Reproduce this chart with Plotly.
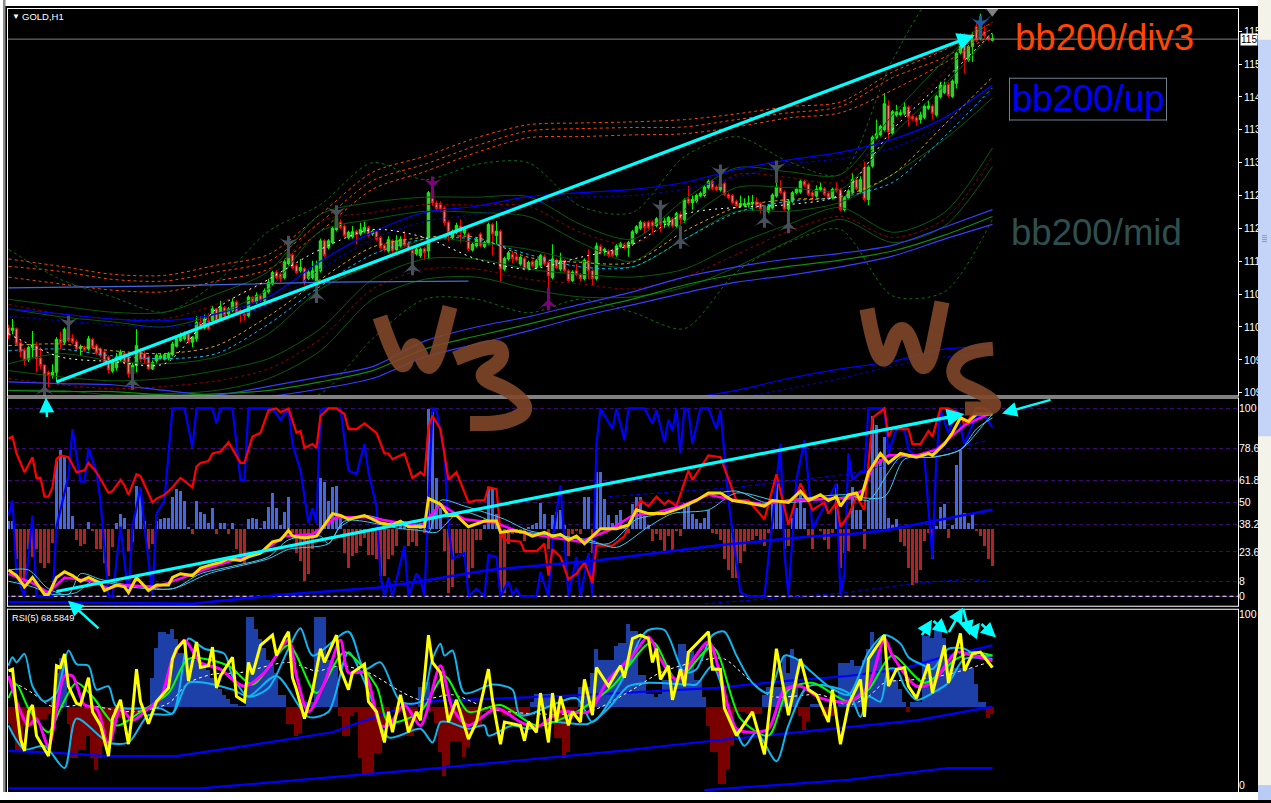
import plotly.graph_objects as go

W, H = 1271, 803

opens = [1103.5,1103.0,1103.3,1100.8,1099.5,1097.8,1100,1100.3,1098.1,1096.9,
1095.6,1095,1095.6,1101.4,1100.9,1103,1101.6,1101,1099.8,1100,
1099.7,1101.4,1100.3,1099.7,1099.2,1098.3,1095.8,1096.4,1097.8,1098.9,
1098.3,1095.3,1096.8,1099.2,1098.9,1098.3,1096.2,1097.6,1098.1,1097.9,
1098.1,1098.7,1100.2,1101.2,1101.5,1102.4,1100.9,1101.5,1104.4,1103.5,
1104.7,1104.7,1106.8,1105,1107,1105.9,1106.5,1108,1106.5,1105.9,
1105.6,1108.8,1108,1109.1,1108.3,1109.8,1111.2,1113.3,1112.9,1112.3,
1114.8,1116.3,1114.4,1113.5,1113.9,1112.2,1112.3,1111.5,1113.5,1118.8,
1117.6,1118.5,1120.8,1122.1,1121.4,1119.4,1119.5,1120.5,1120,1120.5,
1121.2,1120,1120.4,1119.4,1118,1117,1118.8,1117.2,1117.9,1119.1,
1118.4,1117.1,1116.5,1116.2,1117.4,1117,1127.3,1125.5,1125.4,1124.6,
1122.1,1119.4,1120.3,1121.4,1120.2,1120,1117.2,1117.9,1120,1117.8,
1118.4,1121.7,1119.7,1120.5,1113.8,1115.6,1116.4,1116,1114.7,1115.7,
1113.9,1115.1,1114.1,1114.5,1116,1115,1112.3,1115.4,1113.8,1115.3,
1113.5,1111.8,1113.5,1112.8,1112.1,1115.3,1113.5,1112.1,1117.8,1117,
1117,1117.1,1116.3,1117.8,1118.2,1117.6,1118.2,1120.3,1121,1122,
1122.1,1122.1,1121.5,1122.7,1122,1121.6,1122.7,1121.4,1123.5,1122.5,
1126.2,1125.5,1125.8,1126.7,1126.8,1128.2,1129.3,1128.3,1127.8,1128.9,
1127,1126.8,1125.8,1125,1125.1,1125.2,1125.4,1125.7,1125.4,1124.5,
1124,1124.6,1126.7,1128.2,1127.4,1124.4,1125.8,1127.3,1127.4,1129.3,
1128.8,1127.3,1126.7,1127.8,1128,1127.2,1126.4,1128,1127.8,1124.3,
1126.4,1127.4,1129.6,1127.4,1131.7,1126.1,1132,1137,1137.5,1138.4,
1142.7,1137.8,1141,1141.1,1141.2,1142.4,1140.8,1140.5,1140.2,1140.6,
1142.2,1142.6,1141,1144.2,1145,1146.4,1144.3,1146.6,1152,1153.6,
1150.7,1153.1,1156.6,1154.5,1155.7,1154.8,1154.2]
closes = [1102,1103.4,1100.6,1099.2,1097.7,1100,1100.3,1098,1096.8,1095.1,
1095,1095.6,1101.4,1100.8,1103.2,1101.2,1100.9,1099.7,1100.1,1099.5,
1101.5,1100,1099,1098.5,1097.3,1096,1097.4,1098.3,1099.2,1097.4,
1095.3,1096.8,1100.3,1097.9,1097.8,1096.2,1097.3,1098.6,1098.5,1098.7,
1098.9,1100.6,1101.5,1102.1,1102.4,1101,1101.8,1104.4,1103.5,1105,
1103.2,1106.8,1104.7,1107.1,1105.6,1106.8,1108,1106.2,1105.9,1105.6,
1108.9,1108,1109.2,1108.3,1110,1111.5,1113.2,1112.3,1112.1,1115.1,
1116.6,1114.1,1113.2,1114.1,1111.5,1113.3,1113.5,1114.4,1118.8,1116.2,
1118.8,1121,1122.9,1121.1,1119.7,1120.3,1120.4,1119.9,1120.8,1121.2,
1119.8,1120.5,1119.1,1117.6,1117.2,1119,1117,1118.8,1119.1,1118,
1117.4,1116.2,1117.3,1117.3,1116.7,1127.3,1125.5,1124.5,1124.4,1122,
1120.3,1120.5,1121.5,1120.3,1120.8,1117.3,1118.2,1119.1,1117.9,1118.5,
1121.7,1120,1120.5,1113.8,1115.7,1116.7,1115.7,1115.4,1115.9,1113.9,
1115,1114.4,1115.3,1116.2,1114.7,1112.6,1115.6,1114.1,1115.3,1113.5,
1111.8,1113.3,1112.8,1112.1,1115.4,1113.5,1112.1,1117.9,1116.7,1117.3,
1116.2,1116.2,1117.9,1118.3,1117.6,1118.5,1120.4,1121.3,1122.1,1121.1,
1121.1,1121.4,1122.7,1121.7,1122.3,1122.9,1121.4,1123.6,1122.6,1126,
1125.5,1126.1,1126.8,1127.2,1128.3,1129.3,1128,1127.8,1128.9,1127,
1126.4,1125.5,1125,1125.4,1125.4,1125.5,1125.6,1125.1,1124.4,1123.9,
1124.9,1126.9,1128.2,1127.3,1124.4,1125.8,1127.3,1127.9,1129.3,1128.6,
1127,1126.7,1127.9,1128.2,1127,1126.4,1127.9,1127.6,1124.3,1126.4,
1127.6,1129.6,1128,1129.6,1126.1,1131.8,1137.1,1137.7,1139,1143,
1138,1141.6,1141.6,1141.4,1142.4,1140.6,1140.3,1139.9,1141,1142.5,
1142.6,1141.3,1144.3,1146.3,1146.3,1144.4,1147,1151.9,1153.9,1150.8,
1153.1,1154.2,1154.2,1157.8,1155,1154.4,1154.5]
highs = [1104,1105,1103.5,1101.4,1099.9,1100.3,1102.9,1100.9,1100,1096.9,
1095.9,1097,1101.8,1102.7,1103.5,1103.6,1102.3,1101.4,1100.5,1100.3,
1102,1101.7,1100.6,1100,1099.5,1098.6,1098,1099,1099.6,1099.2,
1098.7,1097.3,1103.2,1099.9,1099.4,1098.6,1097.7,1098.9,1098.9,1099,
1099.2,1101,1102,1102.6,1102.8,1102.7,1102,1105.5,1105.5,1105.8,
1106,1107.3,1107,1108.2,1107.3,1107.1,1108.7,1108.3,1106.8,1106.2,
1109.2,1109.1,1109.7,1109.4,1110.4,1112.1,1113.5,1113.6,1113.2,1115.4,
1117.5,1116.7,1114.7,1115.6,1114.2,1113.6,1115.3,1115.3,1119.2,1119.1,
1119.1,1121.3,1124.3,1122.6,1121.7,1120.6,1121.4,1120.8,1122,1122.2,
1121.5,1120.8,1120.7,1119.7,1118.3,1119.6,1119.1,1119.8,1119.6,1120.5,
1118.7,1117.4,1117.6,1117.6,1117.7,1127.6,1127.8,1125.9,1125.8,1125,
1122.4,1120.8,1122,1122.6,1121.2,1120.3,1118.5,1119.4,1120.3,1118.8,
1122,1122,1122.3,1120.8,1116,1117,1117,1116.7,1116.2,1116,
1115.3,1115.4,1115.6,1116.5,1116.4,1115.3,1118.2,1115.7,1116.7,1115.6,
1113.8,1113.6,1114.7,1113.1,1115.7,1117.3,1113.8,1118.5,1118.2,1117.6,
1117.3,1117.4,1118.2,1118.6,1118.5,1118.8,1120.7,1121.6,1122.4,1122.3,
1122.4,1122.4,1123,1125,1122.8,1123.2,1123,1123.9,1124,1126.3,
1128.5,1126.8,1127.1,1127.5,1128.6,1129.6,1129.6,1128.6,1130.5,1129.2,
1127.3,1127.1,1126.1,1126.8,1126.3,1126.8,1126.9,1126.5,1125.7,1124.8,
1125.2,1127.2,1130.8,1129.5,1127.7,1126.1,1127.6,1128.2,1129.6,1129.6,
1129.1,1127.6,1128.6,1129.1,1128.3,1127.5,1128.2,1129,1128.1,1126.7,
1127.9,1130.7,1129.9,1130.2,1132.8,1132.1,1137.4,1140.2,1139.3,1144.9,
1143.6,1141.9,1142.8,1142,1143.3,1142.7,1141.1,1140.8,1141.6,1143,
1143.6,1142.9,1144.6,1146.9,1146.9,1146.8,1147.3,1152.2,1155.4,1155.5,
1153.4,1155.7,1157.2,1158.9,1156.8,1155.1,1155.3]
lows = [1101.5,1102.3,1100.5,1098.3,1096.8,1097.4,1098.3,1095.6,1096.2,1093,
1093,1094.5,1093.9,1099.7,1100.6,1100.9,1100.6,1099.4,1098.5,1099.2,
1099.4,1099.7,1098.7,1098.2,1097,1095.4,1095.5,1095.9,1097.4,1097,
1094.7,1094.8,1095.6,1097.4,1097.1,1096,1096,1097.3,1097.9,1097.7,
1097.7,1098.4,1100,1101,1101.2,1100.7,1100,1101,1103.2,1103.2,
1103,1104.4,1104.4,1104.7,1105.3,1105.6,1106.2,1106,1104.4,1104.7,
1105.3,1107.7,1107.7,1108,1108,1109.5,1110.9,1112,1111.5,1112,
1114.5,1113.8,1112.9,1113.2,1111,1111.9,1112,1109.7,1113.2,1115.9,
1117.3,1118.2,1120.5,1120.8,1119.4,1119.1,1119.2,1118.2,1119.7,1120.2,
1119.5,1119.7,1118.8,1117.3,1116.9,1116.7,1116.7,1116.9,1117.6,1117.7,
1117.1,1115,1116.2,1115.8,1115.4,1115.6,1125,1124.2,1124,1121.5,
1118.8,1119.1,1120,1118.5,1119.8,1117,1116.9,1117.6,1117.6,1117.5,
1118.1,1116.2,1118.2,1111.6,1113.5,1115.3,1114.9,1115.1,1114.4,1113.6,
1113.6,1114.1,1113.8,1114.2,1114.4,1109.1,1112,1113.8,1113.5,1113.2,
1111.5,1111.5,1112.5,1111.6,1111.8,1112.1,1110.9,1111.8,1116.4,1116.2,
1115.9,1115.9,1116,1117.5,1117.3,1116,1117.9,1120,1120.7,1120,
1120.8,1120.2,1121.2,1120.3,1121.1,1121.3,1121.1,1121.1,1119.7,1122,
1125.2,1124.3,1125.5,1126.4,1126.5,1127.9,1127.7,1127.5,1127.5,1126.7,
1126.1,1125.2,1124.7,1124.7,1124.8,1124.7,1124.1,1124.5,1123.7,1122.6,
1123.7,1124.3,1126.4,1127,1124.1,1122.9,1125.5,1127,1127.1,1128.3,
1126.7,1125.9,1126.4,1127.5,1126.7,1126.1,1126.1,1127.3,1124,1124,
1126.1,1127.1,1127.7,1127.1,1125.8,1125.1,1131.7,1136.7,1137.2,1138.1,
1136.7,1137.5,1140.7,1140.8,1140.9,1139,1140,1139.1,1139.5,1140.3,
1141.9,1140.3,1140.7,1143.9,1144.7,1144.1,1144,1145.7,1151.7,1148.4,
1150.4,1150.4,1153.9,1154.2,1154.5,1154.1,1154]

band_x = [0,13,26,39,52,65,78,91,104,117,130,143,156,169,182,195,208,221,234,246]
div3_top = [1115.6,1114.3,1112.9,1112.7,1114.5,1116.4,1123.5,1130.9,1133.7,1137,1139.3,1139.6,1139.8,1140.2,1141.2,1142.5,1143.3,1148.6,1152.5,1157.4]
div3_mid = [1114.3,1113.4,1112,1111.7,1113.3,1115.2,1122.1,1129.4,1132.3,1135.6,1138.2,1138.6,1138.8,1138.9,1140.2,1141.4,1142.5,1147.6,1151.2,1156.3]
div3_bot = [1112.4,1111.2,1110.1,1109.8,1111.7,1113.8,1120.5,1127.9,1131,1134.4,1137,1137.2,1137.5,1137.7,1138.9,1140.5,1141.4,1145.4,1150.2,1155.3]
env_up = [1117.3,1112,1108.9,1106.2,1111.5,1120.5,1125.2,1132.6,1129.6,1132.3,1132.6,1124.9,1123.8,1133.7,1137.2,1132.8,1130.5,1150.7,1163.9,1158.6]
env_dn = [1087.4,1086.5,1086.5,1087.4,1088.3,1090.1,1091.8,1101.5,1108.5,1108.5,1106.1,1108.5,1106.2,1103.3,1113.3,1118.5,1120.8,1109.1,1109.8,1122.6]
up_g1 = [1108.5,1107.3,1106.2,1106.2,1109.4,1113.4,1123.5,1125.6,1126.5,1126.5,1126.6,1121.7,1119.1,1126.1,1131.7,1131,1130.5,1141,1150.7,1158.8]
up_r = [1107.6,1105.9,1105,1105,1107.6,1112,1122.2,1123.8,1125.2,1125.1,1124.9,1120.3,1118.2,1124.3,1130.5,1130,1129.3,1139.3,1148.6,1157.4]
up_g2 = [1106.8,1105.4,1104.5,1103.6,1105.9,1110.3,1120.5,1122.6,1124,1123.8,1123.1,1118.5,1115.2,1122.2,1128.2,1128.2,1127.9,1137.5,1146.3,1155.5]
up_blue = [1106.8,1105.9,1105,1104.7,1105.9,1108.9,1115.2,1120.3,1123.8,1124.9,1126.6,1127.3,1127.9,1129.1,1131.4,1133.1,1134.4,1136.7,1140.5,1146.3]
up_blue_d = [1105.5,1104.7,1104,1103.6,1104.7,1107.5,1113.8,1119.1,1122.2,1123.5,1125.2,1126.5,1126.8,1127.9,1130,1132.3,1133.3,1135.2,1139.3,1145.1]
ma_orange = [1100.3,1100.6,1099.4,1098.9,1100.3,1105.5,1112,1117.7,1119.4,1119.4,1115.9,1115,1115,1120.5,1124.7,1126.1,1126.6,1130.5,1139.3,1147.7]
ma_cyan = [1099.4,1099.7,1098.5,1098,1098.9,1104.1,1110.8,1116.4,1119.1,1119.1,1116.4,1114.2,1114.2,1119.1,1123.8,1125.8,1126.5,1129.1,1137.2,1145.8]
ma_white = [1102.4,1098.3,1097.5,1097.1,1106.8,1112,1117.3,1120.8,1119.4,1115.6,1113.8,1115.9,1118.2,1123.5,1124.7,1125.2,1127,1138.4,1147.2,1155.5]
low_g0 = [1097.1,1098.9,1097.6,1097.1,1098.3,1102.4,1110.3,1114.7,1119.1,1118.5,1117.3,1115.2,1114.2,1119.1,1124,1124,1125.6,1130.5,1136.7,1144]
low_g1 = [1095.9,1094.8,1094.1,1094.5,1095.9,1098,1103.3,1112,1115.6,1115.6,1113.8,1112.9,1112.4,1113.8,1118.2,1121.7,1124.7,1120.3,1123.8,1135.2]
low_r = [1094.5,1093.4,1092.7,1093.1,1094.1,1096.2,1101.5,1110.3,1113.8,1113.8,1112,1111.2,1110.3,1112.4,1116.4,1120.5,1123.1,1119.4,1122.6,1133.7]
low_g2 = [1092.4,1092.4,1091.6,1091.8,1092.4,1094.5,1099.4,1108.5,1112,1112.4,1110.3,1108.9,1108.9,1110.6,1114.2,1118.7,1122.6,1118.5,1121.4,1131.9]
bb200_up = [1093.9,1093.6,1093.4,1092.4,1091.6,1093.1,1094.8,1096.6,1101.1,1103.6,1105.4,1107.6,1109.8,1112.4,1114.2,1115.6,1116.6,1118,1121.2,1124.3]
bb200_mid = [1092.4,1092.2,1092.2,1091.6,1091.8,1092.4,1093.9,1095.9,1099.7,1102,1104.1,1106.4,1108.5,1111,1112.9,1114.3,1115.4,1117,1119.8,1123.1]
bb200_low = [1090.4,1090.4,1090.4,1090.4,1090.4,1091.3,1092.7,1094.5,1098.3,1100.6,1102.9,1105.4,1107.5,1109.6,1111.5,1112.7,1114.2,1116.1,1119.1,1121.7]
deep_x = [169,182,195,208,221,234,246]
deep_blue = [1090.9,1092.4,1094.5,1096.2,1097.5,1099.7,1100.1]
deep_d_x = [182,195,208,221,234,246]
deep_blue_d = [1090.9,1092.7,1094.5,1096.7,1098.3,1099]
flat_x = [0,36,80,115]
flat_blue = [1110.5,1110.8,1111.5,1111.7]
last_price = 1154.4

sig_down_x = [15,70,82,163,178,192]
sig_down_y = [1103.6,1117.7,1123.1,1124,1130.3,1131]
sig_up_x = [9,31,77,101,168,189,195]
sig_up_y = [1093.2,1094.5,1109.8,1114.7,1119.4,1123.1,1122.1]
sig_p_up_x = [135]
sig_p_up_y = [1108.5]
sig_p_dn_x = [106]
sig_p_dn_y = [1128.2]

mid_hist = [4,4,-16,-27,-32,-11,-15,-11,-18,-21,-18,-7.5,36,42,38,22,7,-6,-9,-8,
3.5,-1,-11,-11,-18,-25,-9.5,3,8,6,-12,-7,23,21,4,-11,-8,4,5,6,
6,17,21,20,15,1,-3,15,9,8,3,11,-3,3,3,-3,3,-11,-14,-18,
5,6,5,.5,4,11.5,19,11,2,9,17,-2,-13,-17,-28,-24,-11,-4,27,25,
15,22,23,7,-13,-21,-14.5,-13,-9,-5,-14,-14,-16,-25,-25,-16,-14,-9,3,4,
-9,-7,-9,3,-2,64,62,27,11,-12,-34,-31,-13,-13,-15,-26,-21,-6,-6,2,22,21,8,-34,-34,
-8,-3,-2,-3,-6.5,1,2,3,14,8,-11,7.5,9,10,2,-14.5,-3,-1,-3,17,
17,-13,30,30,16,7.5,3,7.5,10,2,-2,13,17,17,7,2,-6.5,-3,-6,-12,
-4,-12,-1,-4,14,14,8,5,3,6,10,-2,-3,-6,-16,-22,-26,-26,-18,-12,
-7,-6,-4,-6,-9,-2,14,24,15,-11,-9,6,11,19,11,-5,-11,0,-1,-6,
-11,-2,24,-21,-13,-12,22,10,10,-11,15,60,55,37,49,6,2,5,-7,-9,-21,-30,-29,-22,-6.5,-2,
-16,1.5,11.5,13,-5,2,34,42,8.5,3,8.5,-1,-4,-9,-16,-20]

red_x = [0,1,2,4,6,7,8,9,10,11,12,13,15,17,19,20,22,25,26,28,29,30,32,33,36,37,39,41,43,46,47,48,50,51,53,55,58,59,61,63,65,67,68,70,72,73,74,76,77,78,80,82,84,85,87,89,92,94,95,96,99,101,103,
104,105,106,108,110,112,115,117,119,120,122,123,124,128,129,132,134,135,136,138,140,142,144,146,147,151,154,156,158,160,162,164,165,167,169,170,171,175,178,180,182,185,189,192,194,195,198,201,204,205,207,208,210,
212,214,215,216,219,220,221,225,226,228,230,231,233,235,238,239,242,244,246]
red_v = [84,85,76,66,74,63,63,53,53,58,73,75,74,66,67,71,66,55,56,62,59,54,65,64,50,52,54,58,63,58,69,71,72,76,77,82,71,71,85,87,99,100,98,100,87,88,79,81,79,96,100,100,97,89,89,92,87,76,76,73,76,63,66,
64,90,96,89,62,66,50,51,51,58,57,34,30,29,24,24,28,11,25,21,9,12,18,7,27,27,32,43,51,48,53,49,51,48,60,67,62,75,74,62,51,51,41,65,48,38,60,46,50,44,50,37,43,
53,46,69,95,100,85,89,89,81,81,88,85,100,100,97,91,100,100,97]
blue_x = [0,1,2,4,6,7,11,12,15,16,18,19,20,22,23,25,26,28,30,31,33,34,36,37,39,41,44,46,47,51,52,53,56,58,59,60,66,68,70,71,73,75,76,77,78,79,83,85,87,89,90,92,93,94,95,96,99,100,102,
103,104,106,107,109,110,111,114,115,117,119,120,122,123,125,126,127,128,132,133,135,136,138,140,142,143,145,146,147,148,151,152,154,155,159,161,162,164,165,166,167,168,169,170,171,173,175,177,178,179,180,183,185,189,193,194,195,197,199,200,201,203,207,208,209,210,
211,213,214,215,219,220,222,224,225,227,229,231,232,233,235,237,239,242,244,246]
blue_v = [43,51,11,0,43,0,0,37,64,89,61,61,79,66,51,0,0,37,0,37,58,37,1,44,51,100,100,79,100,100,92,100,100,62,62,100,100,94,100,81,67,39,47,39,99,100,100,67,65,81,66,48,11,0,10,0,27,0,12,
9,0,100,99,76,37,20,23,0,4,0,22,21,0,8,1,4,0,0,13,0,30,59,0,21,0,23,0,81,100,89,100,83,100,100,92,99,82,94,88,100,76,100,99,81,100,100,89,99,76,51,2,0,0,81,23,0,62,83,62,36,44,60,0,12,76,
62,66,66,100,100,76,89,89,78,74,74,20,74,99,87,99,81,96,96,90]
gold_x = [0,2,4,6,9,10,12,14,16,18,20,23,24,27,29,30,32,35,37,40,41,43,46,48,51,53,55,58,60,63,66,68,70,71,74,77,81,83,85,89,93,96,98,100,103,
104,105,108,110,112,115,119,122,123,126,129,131,134,136,138,140,142,144,146,148,152,155,157,160,164,168,172,175,178,181,184,189,191,195,198,200,203,205,207,208,210,
212,213,215,218,220,223,227,230,231,234,236,238,240,242,244,246]
gold_v = [14,11,5,10,1,1,10,13,11,8,10,7,3,6,5,2,10,3,6,6,10,12,11,15,17,18,20,19,21,23,29,30,35,32,31,32,44,43,41,43,39,38,40,37,37,
37,52,49,43,43,37,40,40,34,35,34,32,34,32,33,30,32,28,32,36,36,38,46,44,44,47,51,55,55,51,50,48,51,50,56,51,54,51,53,48,54,
55,51,66,76,71,76,74,76,75,81,87,95,93,97,97,97]
mag_x = [0,6,10,14,21,25,28,37,45,50,56,63,69,76,82,90,98,103,108,114,122,128,134,143,150,156,161,168,175,182,189,195,207,210,214,216,220,227,232,239,245]
mag_v = [12,7,2,10,8,4,6,5,11,15,19,23,32,33,42,42,39,37,49,41,39,34,32,29,35,43,44,48,54,51,49,51,52,52,57,69,75,75,78,91,97]
thin1_x = [0,5,10,15,18,23,30,41,48,56,65,70,78,80,83,89,98,103,105,108,114,124,130,139,150,157,161,166,174,182,189,194,210,215,220,223,231,238,244,246]
thin1_v = [14,14,4,1,12,9,6,4,12,16,21,30,32,28,37,43,38,38,34,51,48,41,35,32,28,41,43,46,53,56,50,51,54,51,66,74,74,78,92,97]
thin2_x = [0,6,11,17,21,30,41,50,65,70,80,84,98,103,107,113,124,130,145,152,160,166,175,182,194,210,219,224,231,238,242,246]
thin2_v = [8,5,1,2,8,5,4,12,20,25,28,40,36,35,34,45,37,34,30,26,37,44,46,55,50,53,53,73,74,78,89,95]
trend_x = [0,46,69,92,103,120,147,177,201,210,219,231,246]
trend_v = [-3,-4,1,4.5,8,14,19,27,32,33,35,40,46]
low_d_x = [174,186,210,227,240,245]
low_d_v = [-4,-2,2,7,9,8]
high_d_x = [150,182,210,239,245]
high_d_v = [53,58,65,80,83]
fib_levels = [100,78.6,61.8,50,38.2,23.6,8,0]

rsi_hist = [-10,-16,-25,-25,-11,-11,-11,-8,-7,-7,-4,5,20,29,29,-10,-30,-30,-25,-25,
-17,-30,-37,-30,-22,-22,-10,-8,-6,-3,-3,-4,-4,-4,-4,0,17,35,44,44,
43,46,40,32,32,28,28,28,25,25,22,17,17,11,7,5,2,2,1,1,
53,53,46,40,35,28,25,20,7,7,-10,-10,-17,-15,3,3,3,53,53,53,
28,28,24,-5,-17,-17,-5,-3,-30,-39,-39,-39,-27,-27,-11,-9,0,-2,-1,-1,
-17,-17,-8,12,15,15,-2,-9,-26,-40,-34,-20,-20,-20,-29,-23,-11,-11,-11,-3,-3,-3,-3,-3,-5,
-5,-5,-5,-5,-5,-5,3,8,8,8,8,8,-18,-18,-30,-26,-7,-1,12,12,
12,20,34,28,28,28,28,36,38,38,49,45,45,19,19,8,8,6,8,16,
16,16,16,37,37,33,33,16,16,6,-11,-26,-26,-45,-45,-36,-22,-3,-3,-3,
-4,-4,-4,-4,7,12,12,12,12,30,20,34,28,-5,-13,-8,2,2,2,-5,
-5,-5,-5,26,26,26,28,24,24,28,34,44,34,34,23,23,16,16,11,3,-3,3,3,3,42,42,
41,46,46,41,28,28,23,23,23,23,23,14,3,3,-6,-4]

rsi5_x = [0,1,2,3,4,5,6,7,8,10,11,12,13,14,15,17,18,20,21,23,25,26,28,30,31,32,33,35,37,40,41,42,44,45,47,48,50,51,52,53,56,57,59,60,61,63,66,67,69,70,71,72,74,76,78,79,82,83,85,86,89,90,92,94,95,96,98,100,102,
103,105,106,108,110,112,115,117,120,121,123,124,128,129,130,132,133,135,136,137,138,140,141,143,144,146,147,150,153,154,156,158,160,161,162,163,165,166,168,169,170,175,176,178,179,182,186,189,192,195,198,200,202,205,206,208,210,
211,213,214,215,219,220,222,224,225,227,230,231,234,235,238,239,241,243,246]
rsi5_v = [67,68,46,27,20,43,47,29,25,17,35,70,69,77,58,48,47,63,43,35,17,39,50,24,43,68,49,36,49,57,74,80,85,61,84,69,70,81,57,64,75,52,49,72,65,82,88,76,86,90,63,56,39,55,80,72,88,68,56,66,71,49,43,25,43,31,53,31,43,
38,88,72,66,37,50,27,37,68,50,24,37,35,26,37,31,54,25,54,37,52,35,43,37,62,41,69,58,70,63,86,88,86,72,80,62,70,50,68,58,78,90,68,68,45,29,43,18,80,41,74,56,53,37,56,24,47,
52,62,40,74,88,58,68,69,58,51,71,54,82,60,89,67,77,78,69]
rsi_mag_x = [0,3,5,7,10,14,16,19,22,25,28,31,35,38,41,44,48,53,56,59,64,70,72,75,79,83,85,89,93,95,99,103,108,111,115,122,128,132,138,145,150,156,160,163,167,175,178,182,186,190,194,198,203,210,215,219,221,227,231,237,241,246]
rsi_mag_v = [64,43,35,39,23,64,64,47,45,23,45,38,45,51,74,85,72,68,62,58,66,85,64,43,60,85,66,66,35,35,47,35,70,45,35,45,37,34,43,43,62,76,87,74,62,84,64,33,31,33,56,58,51,49,58,86,76,58,60,78,76,73]
rsi_green_x = [0,2,5,10,13,17,21,27,33,40,45,55,61,70,77,84,92,95,103,109,115,123,132,142,151,161,167,176,183,190,195,201,210,215,221,229,237,241,246]
rsi_green_v = [51,59,45,31,45,60,52,35,43,54,74,70,59,82,54,78,58,37,43,64,43,47,35,43,58,84,62,81,39,29,56,60,49,56,76,60,74,78,76]
rsi_up_x = [0,1,2,4,6,9,12,15,17,20,22,25,27,38,41,44,45,49,54,56,60,65,70,73,76,85,89,93,98,103,106,108,109,111,114,121,126,128,142,146,153,158,160,164,169,172,176,179,182,186,190,194,197,200,205,210,215,219,223,225,229,231,235,239,242,246]
rsi_up_v = [70,75,72,77,58,49,54,79,71,70,56,58,46,45,42,76,86,80,77,64,52,57,80,92,76,90,68,72,49,49,74,83,76,79,54,59,56,41,51,37,60,86,91,91,66,68,88,90,76,60,54,76,74,68,58,53,78,88,83,75,70,68,80,80,76,76]
rsi_dn_x = [0,4,9,14,17,25,30,35,41,45,56,60,67,75,80,85,90,95,103,106,108,110,115,119,120,126,130,136,145,150,155,160,170,172,176,180,184,187,192,195,200,210,213,215,218,220,222,224,227,231,235,239,246]
rsi_dn_v = [35,21,23,10,39,25,25,41,42,60,56,52,64,40,43,78,55,28,33,25,37,37,33,35,29,35,33,37,36,45,58,60,59,59,70,45,23,31,14,35,58,54,40,52,49,68,68,58,50,54,60,74,74]
rsi_ma_x = [0,6,11,19,31,40,45,51,58,70,77,83,90,98,103,111,120,130,145,156,163,175,179,186,191,203,210,215,219,227,235,245]
rsi_ma_v = [62,54,46,47,43,48,60,65,66,72,67,70,66,55,50,53,45,42,43,56,66,74,74,60,52,53,47,52,60,62,65,72]
rsi_a_x = [0,11,25,42,65,81,88,103,125,145,177,194,210,223,235,246]
rsi_a_v = [20,19,17,17,25,31,37,49,51,53,57,61,64,68,76,82]
rsi_b_x = [0,48,73,103,153,176,210,227,246]
rsi_b_v = [-2,-2,3,9,20,26,34,38,46]
rsi_c_x = [174,210,235,246]
rsi_c_v = [-3,3,10,10]

price_ticks = [1092,1097.8,1103.6,1109.4,1115.2,1121,1126.8,1132.6,1138.4,1144.2,1150,1155.8]
price_labels = ["109","109","110","110","111","112","112","113","113","114","115","115"]

n = len(closes)
bars = list(range(n))

# ---- figure frame helpers ----
def fx(px): return px / W
def fy(py): return 1 - py / H

def stroke(points):
    # rounded freehand stroke: quadratic segments through the midpoints
    def pt(p): return f"{fx(p[0]):.5f},{fy(p[1]):.5f}"
    d = "M " + pt(points[0])
    for i in range(1, len(points) - 1):
        mid = ((points[i][0] + points[i + 1][0]) / 2, (points[i][1] + points[i + 1][1]) / 2)
        d += " Q " + pt(points[i]) + " " + pt(mid)
    return d + " L " + pt(points[-1])

fig = go.Figure()

def line(x, y, color, width=1, dash=None, axis="y", smooth=False):
    ln = dict(color=color, width=width, dash=dash)
    if smooth:
        ln.update(shape="spline", smoothing=0.8)
    fig.add_trace(go.Scatter(x=x, y=y, mode="lines", yaxis=axis, hoverinfo="skip", line=ln))

DG = "#0a5a0a"
DR = "#8b0000"
DASH = "3px,3px"
# price pane overlays
for s in (div3_top, div3_mid, div3_bot):
    line(band_x, s, "#ff4500", 1, DASH, smooth=True)
line(band_x, env_up, "#0f6a0f", 1, DASH, smooth=True)
line(band_x, env_dn, "#0f6a0f", 1, DASH, smooth=True)
line(band_x, up_g1, DG, smooth=True); line(band_x, up_r, DR, 1, DASH, smooth=True); line(band_x, up_g2, DG, smooth=True)
line(band_x, up_blue, "#0000ff", 1.2, smooth=True); line(band_x, up_blue_d, "#0000cd", 1, DASH, smooth=True)
line(band_x, low_g0, DG, smooth=True); line(band_x, low_g1, DG, smooth=True); line(band_x, low_r, DR, 1, DASH, smooth=True); line(band_x, low_g2, DG, smooth=True)
line(band_x, ma_orange, "#daa520", 1, DASH, smooth=True); line(band_x, ma_cyan, "#00bfff", 1, DASH, smooth=True)
line(band_x, bb200_up, "#3a3aff", 1.2, smooth=True); line(band_x, bb200_mid, "#138a13", 1.2, smooth=True); line(band_x, bb200_low, "#3a3aff", 1.2, smooth=True)
line(deep_x, deep_blue, "#0000ff", 1.2, smooth=True); line(deep_d_x, deep_blue_d, "#0000cd", 1, DASH, smooth=True)
line(flat_x, flat_blue, "#4169e1", 1.2)
line([bars[0] - 1, 308], [last_price, last_price], "#808080", 1)
fig.add_trace(go.Candlestick(x=bars, open=opens, high=highs, low=lows, close=closes, hoverinfo="skip",
    increasing=dict(line=dict(color="#00ff00", width=1), fillcolor="#32cd32"),
    decreasing=dict(line=dict(color="#ff0000", width=1), fillcolor="#f07878"), whiskerwidth=0))
line(band_x, ma_white, "#ffffff", 1, "2px,4px", smooth=True)

def marks(x, y, sym, color, size=13, angle=0):
    fig.add_trace(go.Scatter(x=x, y=y, mode="markers", hoverinfo="skip",
                             marker=dict(symbol=sym, color=color, size=size, angle=angle, line=dict(width=0))))
def signal(x, y, color, up):
    fig.add_trace(go.Scatter(x=x, y=y, mode="markers", hoverinfo="skip",
                             marker=dict(symbol="line-ns", size=16, color=color, line=dict(color=color, width=3))))
    marks(x, y, "arrow-wide", color, 15, 0 if up else 180)
signal(sig_down_x, sig_down_y, "#48505c", False)
signal(sig_up_x, sig_up_y, "#48505c", True)
signal(sig_p_up_x, sig_p_up_y, "#800080", True)
signal(sig_p_dn_x, sig_p_dn_y, "#800080", False)
signal([243], [1156.5], "#1e5aa8", False)
marks([246], [1159.3], "triangle-down", "#808080", 11)

# middle pane
MID_BASE = 35.9
fig.add_trace(go.Bar(x=bars, y=mid_hist, base=MID_BASE, yaxis="y2", width=0.72, hoverinfo="skip",
                     marker=dict(color=["#4169e1" if v >= 0 else "#b22222" for v in mid_hist], line=dict(width=0))))
line([-1, 308], [0, 0], "#ffffff", 1, "4px,3px", "y2")
line(blue_x, blue_v, "#0000ff", 2.2, None, "y2")
line(red_x, red_v, "#ff0000", 2.2, None, "y2")
line(trend_x, trend_v, "#0000ff", 2.5, None, "y2")
line(low_d_x, low_d_v, "#0000ff", 1, "4px,3px", "y2")
line(high_d_x, high_d_v, "#0000ff", 1, "4px,3px", "y2")
line(thin1_x, thin1_v, "#40c8f0", 1, None, "y2", True)
line(thin2_x, thin2_v, "#40c8f0", 1, None, "y2", True)
line(mag_x, mag_v, "#ff00ff", 2.5, None, "y2")
line(gold_x, gold_v, "#ffd700", 3, None, "y2")

# RSI pane
RSI_BASE = 45.6
fig.add_trace(go.Bar(x=bars, y=rsi_hist, base=RSI_BASE, yaxis="y3", width=1.0, hoverinfo="skip",
                     marker=dict(color=["#1c3fa8" if v >= 0 else "#7a0000" for v in rsi_hist], line=dict(width=0))))
line(rsi_a_x, rsi_a_v, "#0000ff", 2.2, None, "y3")
line(rsi_b_x, rsi_b_v, "#0000ff", 2.2, None, "y3")
line(rsi_c_x, rsi_c_v, "#0000ff", 2.2, None, "y3")
line(rsi_ma_x, rsi_ma_v, "#ffffff", 1, "3px,3px", "y3", True)
line(rsi_up_x, rsi_up_v, "#10b4ee", 2, None, "y3", True)
line(rsi_dn_x, rsi_dn_v, "#10b4ee", 2, None, "y3", True)
line(rsi_green_x, rsi_green_v, "#00ff00", 2, None, "y3", True)
line(rsi_mag_x, rsi_mag_v, "#ff00ff", 3, None, "y3", True)
line(rsi5_x, rsi5_v, "#ffff00", 3, None, "y3")

# ---- furniture ----
shapes = []
def rect(x0, y0, x1, y1, fill=None, color=None, width=1, layer="above"):
    shapes.append(dict(type="rect", xref="paper", yref="paper", x0=fx(x0), x1=fx(x1), y0=fy(y0), y1=fy(y1),
                       fillcolor=fill, line=dict(color=color, width=width if color else 0), layer=layer))
def frame(x0, y0, x1, y1):
    rect(x0, y0, x1, y0 + 1, "#ffffff")
    rect(x0, y1, x1, y1 + 1, "#ffffff")
    rect(x0, y0, x0 + 1, y1 + 1, "#ffffff")
    rect(x1, y0, x1 + 1, y1 + 1, "#ffffff")
frame(7, 8, 1238, 397)
frame(7, 399, 1238, 608)
frame(7, 611, 1238, 795)
rect(0, 0, W, 6, "#ffffff")
rect(0, 0, 3, H, "#ffffff")
rect(3, 0, 5.5, H, "#8c8c8c")
rect(0, 795, 1258, H, "#ffffff")
rect(1258, 0, W, H, "#f4f3ea")
rect(1258, 40, W, 438, "#c3d4f8")
rect(1258, 788, W, H, "#b8ccf6")
rect(1009, 78, 1010, 121, "#708090"); rect(1166, 78, 1167, 121, "#708090")
rect(1009, 78, 1167, 79, "#708090"); rect(1009, 120, 1167, 121, "#708090")
for yy in (236, 238, 240, 242):
    rect(1262, yy, 1267, yy + 1, "#7f9bdc")
BROWN = "#80482a"
w3_w = [(380,318),(402,384),(412,335),(431,382),(450,308)]
w3_3 = [(455,360),(498,342),(504,362),(475,378),(512,392),(530,412),(505,425),(470,425)]
w5_w = [(867,310),(880,385),(902,312),(925,388),(942,303)]
w5_5 = [(993,350),(962,352),(948,380),(988,397),(998,410),(965,410)]
for p, wd in ((w3_w,15),(w3_3,15),(w5_w,15),(w5_5,14)):
    shapes.append(dict(type="path", path=stroke(p), xref="paper", yref="paper", layer="above",
                       opacity=0.9, line=dict(color=BROWN, width=wd), fillcolor="rgba(0,0,0,0)"))

annotations = []
FONT = "Liberation Sans"
def label(txt, x, y, size, color, anchor="left", **kw):
    annotations.append(dict(text=txt, x=fx(x), y=fy(y), xref="paper", yref="paper", showarrow=False,
                            xanchor=anchor, yanchor="middle", font=dict(family=FONT, size=size, color=color), **kw))
label("bb200/div3", 1013, 38, 36.6, "#ff4500")
label("bb200/up", 1010, 99, 36.6, "#0000ff")
label("bb200/mid", 1009, 233, 36.6, "#2f4f4f")
label("GOLD,H1", 20, 16.5, 9.5, "#ffffff")
label("▼", 10, 16.5, 8, "#ffffff")
label("RSI(5) 68.5849", 10, 620, 9.2, "#ffffff")
label("115", 1240, 40, 10, "#000000", bgcolor="#ffffff", borderpad=0)

CY = "#00ffff"
def arrow_data(x0, y0, x1, y1, yref):
    annotations.append(dict(x=x1, y=y1, ax=x0, ay=y0, xref="x", yref=yref, axref="x", ayref=yref, text="",
                            showarrow=True, arrowhead=2, arrowsize=1.1, arrowwidth=3.2, arrowcolor=CY))
def arrow_px(x0, y0, x1, y1, wd=2.5, head=2):
    annotations.append(dict(x=fx(x1), y=fy(y1), ax=x0 - x1, ay=y0 - y1, xref="paper", yref="paper", text="",
                            showarrow=True, arrowhead=head, arrowsize=1.2, arrowwidth=wd, arrowcolor=CY))
arrow_data(11.6, 1093.8, 241.6, 1155.1, "y")
arrow_data(11.6, 2.4, 239, 97, "y2")
arrow_px(47, 420, 46, 399)
arrow_px(1052, 401, 1002, 415)
arrow_px(100, 632, 68, 603)
zig = [(921,639),(932,622),(948,636),(963,610),(970,638),(980,625),(996,640)]
for a, b in zip(zig, zig[1:]):
    arrow_px(a[0], a[1], b[0], b[1], 2.5, 2)

axis_font = dict(family=FONT, size=10.5, color="#ffffff")
def pane(top, bot): return [1 - bot / H, 1 - top / H]
fig.update_layout(
    width=W, height=H, margin=dict(l=0, r=0, t=0, b=0), paper_bgcolor="#000000", plot_bgcolor="#000000",
    showlegend=False, barmode="overlay", bargap=0, boxgap=0.12, shapes=shapes, annotations=annotations,
    xaxis=dict(domain=[fx(8), fx(1238)], range=[-0.125, 307.4], visible=False, rangeslider=dict(visible=False), fixedrange=True),
    yaxis=dict(domain=pane(8, 397), range=[1091.5, 1159.9], side="right", tickvals=price_ticks, ticktext=price_labels,
               showgrid=False, zeroline=False, ticks="outside", ticklen=3, tickcolor="#ffffff", tickfont=axis_font, fixedrange=True),
    yaxis2=dict(domain=pane(399, 608), range=[-5.04, 105.8], side="right", tickvals=fib_levels, ticktext=[str(v) for v in fib_levels],
                showgrid=True, gridcolor="#3a0a72", griddash="4px,3px", gridwidth=1, zeroline=False, ticks="", tickfont=axis_font, fixedrange=True, anchor="x"),
    yaxis3=dict(domain=pane(611, 795), range=[-4.1, 103.5], side="right", tickvals=[0, 100], ticktext=["0", "100"],
                showgrid=False, zeroline=False, ticks="", tickfont=axis_font, fixedrange=True, anchor="x"),
)
fig.write_html("out.html", config=dict(displayModeBar=False, staticPlot=True),
               post_script="document.body.style.margin='0';document.body.style.overflow='hidden';")
